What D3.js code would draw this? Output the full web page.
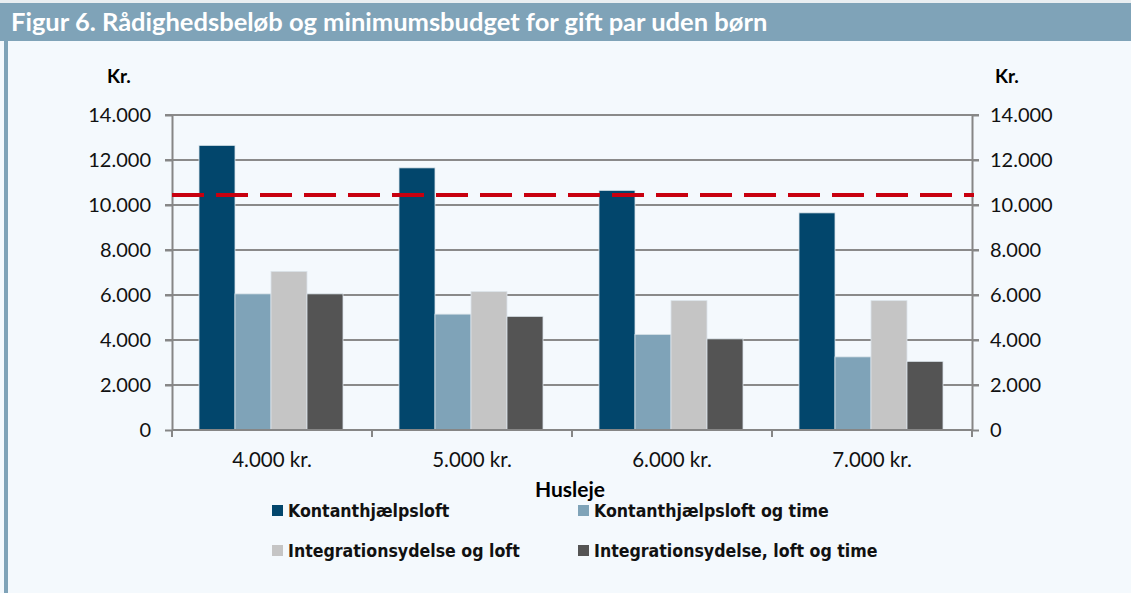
<!DOCTYPE html>
<html>
<head>
<meta charset="utf-8">
<script src="https://cdn.jsdelivr.net/npm/d3@7"></script>
<style>
    body { margin: 0; background: #ffffff; }
    svg { display: block; }
</style>
</head>
<body>
<div class="chart-container"></div>
<script>
// Data
const categories = ['4.000 kr.', '5.000 kr.', '6.000 kr.', '7.000 kr.'];
const seriesNames = [
    'Kontanthjælpsloft',
    'Kontanthjælpsloft og time',
    'Integrationsydelse og loft',
    'Integrationsydelse, loft og time'
];
const kontanthjaelpsloft = [12650, 11650, 10650, 9650];
const kontanthjaelpsloftTime = [6050, 5150, 4250, 3250];
const integrationLoft = [7050, 6150, 5750, 5750];
const integrationLoftTime = [6050, 5050, 4050, 3050];
const minimumsbudget = 10450;
const yTicks = [0, 2000, 4000, 6000, 8000, 10000, 12000, 14000];

const colors = ['#02466c', '#7fa3b8', '#c5c5c5', '#545454'];
const seriesValues = [kontanthjaelpsloft, kontanthjaelpsloftTime, integrationLoft, integrationLoftTime];

// Layout
const svgWidth = 1131;
const svgHeight = 593;
const margin = { top: 115, left: 172 };
const width = 800;
const height = 315;

const svg = d3.select('.chart-container')
    .append('svg')
    .attr('width', svgWidth)
    .attr('height', svgHeight);

// Background + frame
svg.append('rect').attr('width', svgWidth).attr('height', svgHeight).attr('fill', '#f4f9fd');
svg.append('rect').attr('x', 0).attr('y', 0).attr('width', svgWidth).attr('height', 3).attr('fill', '#e9eef1');
svg.append('rect').attr('x', 0).attr('y', 3).attr('width', svgWidth).attr('height', 38).attr('fill', '#7fa3b8');
svg.append('rect').attr('x', 4).attr('y', 41).attr('width', 4).attr('height', svgHeight - 41).attr('fill', '#7fa3b8');

svg.append('text')
    .attr('x', 11)
    .attr('y', 31)
    .style('font-family', 'Lato, sans-serif')
    .style('font-weight', 'bold')
    .style('font-size', '25.5px')
    .style('fill', '#ffffff')
    .text('Figur 6. Rådighedsbeløb og minimumsbudget for gift par uden børn');

const g = svg.append('g')
    .attr('transform', 'translate(' + margin.left + ',' + margin.top + ')');

// Scales
const x0 = d3.scaleBand().domain(categories).range([0, width]).paddingInner(0).paddingOuter(0);
const x1 = d3.scaleBand().domain(d3.range(seriesNames.length)).range([27, x0.bandwidth() - 29]).padding(0);
const yScale = d3.scaleLinear().domain([0, 14000]).range([height, 0]);

const fmt = d => d3.format(',')(d).replace(/,/g, '.');

// Gridlines
g.append('g')
    .selectAll('line')
    .data(yTicks.filter(d => d > 0))
    .enter()
    .append('line')
    .attr('x1', -7)
    .attr('x2', width + 7)
    .attr('y1', d => yScale(d))
    .attr('y2', d => yScale(d))
    .style('stroke', '#8a8a8a')
    .style('stroke-width', 2);

// Bars
const groups = g.selectAll('.group')
    .data(categories)
    .enter()
    .append('g')
    .attr('class', 'group')
    .attr('transform', d => 'translate(' + x0(d) + ',0)');

groups.selectAll('rect')
    .data((d, i) => seriesValues.map((s, j) => ({ series: j, value: s[i] })))
    .enter()
    .append('rect')
    .attr('x', d => x1(d.series))
    .attr('width', x1.bandwidth())
    .attr('y', d => yScale(d.value))
    .attr('height', d => height - yScale(d.value))
    .style('fill', d => colors[d.series])
    .style('stroke', '#dbe4ea')
    .style('stroke-width', 0.8);

// Axes
const axisStyle = sel => {
    sel.select('.domain').style('stroke', '#868686').style('stroke-width', 2);
    sel.selectAll('.tick line').style('stroke', '#868686').style('stroke-width', 2);
    sel.selectAll('.tick text')
        .style('font-family', 'Lato, sans-serif')
        .style('font-size', '20px')
        .style('fill', '#111');
};

const yAxisLeft = d3.axisLeft(yScale).tickValues(yTicks).tickFormat(fmt).tickSizeInner(7).tickSizeOuter(0).tickPadding(14);
g.append('g').call(yAxisLeft).call(axisStyle);

const yAxisRight = d3.axisRight(yScale).tickValues(yTicks).tickFormat(fmt).tickSizeInner(7).tickSizeOuter(0).tickPadding(11);
g.append('g').attr('transform', 'translate(' + width + ',0)').call(yAxisRight).call(axisStyle);

const xAxis = d3.axisBottom(x0).tickSize(0).tickPadding(22);
const xAxisDraw = g.append('g').attr('transform', 'translate(0,' + height + ')').call(xAxis).call(axisStyle);
xAxisDraw.select('.domain').attr('d', 'M0,0H' + width);
xAxisDraw.selectAll('.tick text').style('font-size', '20.5px');

// Category boundary ticks
xAxisDraw.selectAll('.boundary')
    .data(d3.range(categories.length + 1))
    .enter()
    .append('line')
    .attr('x1', i => i * x0.step())
    .attr('x2', i => i * x0.step())
    .attr('y1', 0)
    .attr('y2', 7)
    .style('stroke', '#868686')
    .style('stroke-width', 2);

// Minimumsbudget line
g.append('line')
    .attr('x1', 0)
    .attr('x2', width + 2)
    .attr('y1', yScale(minimumsbudget))
    .attr('y2', yScale(minimumsbudget))
    .style('stroke', '#c8000f')
    .style('stroke-width', 4)
    .style('stroke-dasharray', '32,12');

// Axis titles
const boldText = (sel, size) => sel
    .style('font-family', 'Lato, sans-serif')
    .style('font-weight', 'bold')
    .style('font-size', size)
    .style('fill', '#000');

svg.append('text').attr('x', 107).attr('y', 83).text('Kr.').call(boldText, '19px');
svg.append('text').attr('x', 995).attr('y', 83).text('Kr.').call(boldText, '19px');
svg.append('text').attr('x', 570).attr('y', 497).attr('text-anchor', 'middle').text('Husleje').call(boldText, '21px');

// Legend
const legendPos = [[272, 511], [578, 511], [272, 551], [578, 551]];
const legend = svg.selectAll('.legend')
    .data(seriesNames)
    .enter()
    .append('g')
    .attr('class', 'legend')
    .attr('transform', (d, i) => 'translate(' + legendPos[i][0] + ',' + legendPos[i][1] + ')');

legend.append('rect')
    .attr('x', 0)
    .attr('y', -6)
    .attr('width', 11)
    .attr('height', 11)
    .style('fill', (d, i) => colors[i]);

legend.append('text')
    .attr('x', 16)
    .attr('y', 6)
    .text(d => d)
    .style('font-family', '"Liberation Sans Narrow", "DejaVu Sans Condensed", sans-serif')
    .style('font-weight', 'bold')
    .style('font-size', '17.6px')
    .style('fill', '#111');
</script>
</body>
</html>
